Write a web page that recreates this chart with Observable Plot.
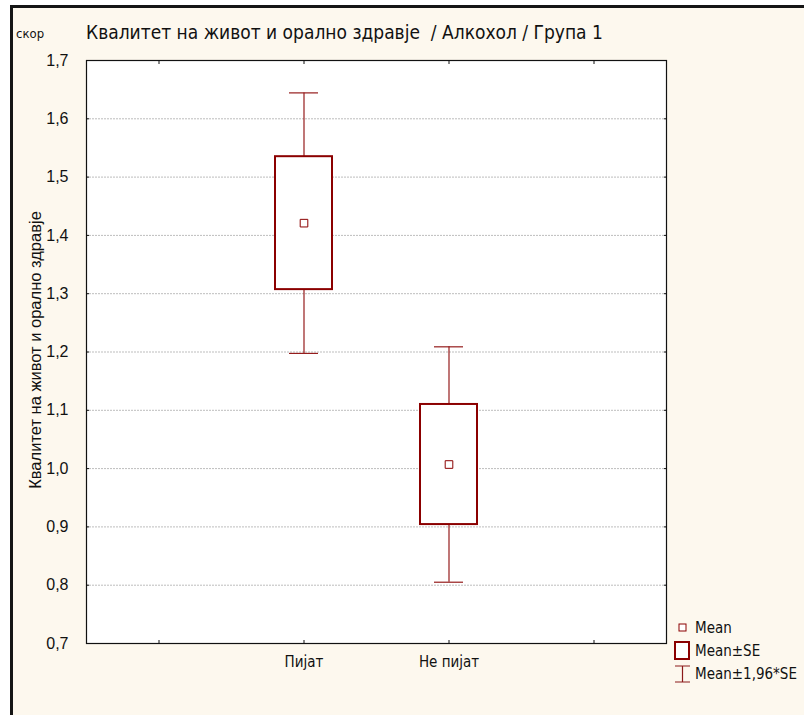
<!DOCTYPE html>
<html>
<head>
<meta charset="utf-8">
<script src="https://cdn.jsdelivr.net/npm/d3@7"></script>
<script src="https://cdn.jsdelivr.net/npm/@observablehq/plot@0.6"></script>
<style>
  html, body { margin: 0; padding: 0; background: #ffffff; }
  #page { position: relative; width: 804px; height: 715px; overflow: hidden; }
  #panel {
    position: absolute; left: 10px; top: 5px; width: 800px; height: 720px;
    border-left: 3px solid #151515; border-top: 3px solid #151515;
    background: #fdf8ee;
  }
  #chart { position: absolute; left: 0; top: 0; }
  #chart svg g[aria-label="y-axis tick label"] { font-size: 16px !important; font-family: "Liberation Sans", Arial, sans-serif; }
  #chart svg g[aria-label="x-axis tick label"] { font-size: 15px !important; }
  .narrow { font-family: "Liberation Sans Narrow", "DejaVu Sans Condensed", "Open Sans", sans-serif; color: #111; }
  #unit { position: absolute; left: 16px; top: 26px; font-size: 13px; }
  #title { position: absolute; left: 86px; top: 21px; font-size: 19px; white-space: pre; }
  #ytitle {
    position: absolute; left: 35px; top: 350px; font-size: 16.5px; white-space: nowrap;
    font-family: "Liberation Sans", Arial, sans-serif; color: #111;
    transform: translate(-50%, -50%) rotate(-90deg);
  }
  #legend { position: absolute; left: 674px; top: 616px; font-size: 15px; }
  #legend .row { display: flex; align-items: center; height: 23px; }
  #legend svg { width: 18px; margin-right: 3px; overflow: visible; }
</style>
</head>
<body>
<div id="page">
  <div id="panel"></div>
  <div id="chart"></div>
  <div id="unit" class="narrow">скор</div>
  <div id="title" class="narrow">Квалитет на живот и орално здравје  / Алкохол / Група 1</div>
  <div id="ytitle">Квалитет на живот и орално здравје</div>
  <div id="legend" class="narrow">
    <div class="row"><svg height="12" viewBox="0 0 18 12"><rect x="5" y="2" width="7" height="7" fill="white" stroke="#8b0000" stroke-width="1"/></svg>Mean</div>
    <div class="row"><svg height="20" viewBox="0 0 18 20"><rect x="1" y="1" width="14" height="17" fill="white" stroke="#8b0000" stroke-width="2"/></svg>Mean±SE</div>
    <div class="row"><svg height="20" viewBox="0 0 18 20"><path d="M1,2H16M8.5,2V18M1,18H16" fill="none" stroke="#8b1a1a" stroke-width="1.2"/></svg>Mean±1,96*SE</div>
  </div>
</div>
<script>
// Groups, means and standard errors of the oral-health quality-of-life score
const groups = ["Пијат", "Не пијат"];
const means = [1.421, 1.007];
const stdErrors = [0.114, 0.103];
const yTicks = [0.7, 0.8, 0.9, 1.0, 1.1, 1.2, 1.3, 1.4, 1.5, 1.6, 1.7];
const gridTicks = [0.8, 0.9, 1.0, 1.1, 1.2, 1.3, 1.4, 1.5, 1.6];
// two empty slots frame the groups on the category axis
const xDomain = ["", ...groups, " "];

const data = groups.map((g, i) => ({
  group: g,
  mean: means[i],
  seLo: means[i] - stdErrors[i],
  seHi: means[i] + stdErrors[i],
  ciLo: means[i] - 1.96 * stdErrors[i],
  ciHi: means[i] + 1.96 * stdErrors[i]
}));

const dark = "#8b0000";
const whisker = "#951c1c";
const comma = d => d3.format(".1f")(d).replace(".", ",");

const chart = Plot.plot({
  width: 804,
  height: 715,
  marginLeft: 86,
  marginTop: 60,
  marginRight: 138,
  marginBottom: 72,
  style: { background: "transparent", fontFamily: "Liberation Sans, Arial, sans-serif", color: "#111" },
  x: { type: "band", domain: xDomain, padding: 0 },
  y: { domain: [0.7, 1.7] },
  marks: [
    Plot.frame({ fill: "white" }),
    Plot.ruleY(gridTicks, { stroke: "#bdbdbd", strokeWidth: 1, strokeDasharray: "2,1" }),
    // tick marks pointing into the frame on all four sides
    Plot.axisY(yTicks, { anchor: "left", tickSize: 3, dx: 3, tickFormat: () => "", label: null }),
    Plot.axisY(yTicks, { anchor: "right", tickSize: 3, dx: -3, tickFormat: () => "", label: null }),
    Plot.axisX(xDomain, { anchor: "top", tickSize: 3, dy: 3, tickFormat: () => "", label: null }),
    Plot.axisX(xDomain, { anchor: "bottom", tickSize: 3, dy: -3, tickFormat: () => "", label: null }),
    // value and category labels
    Plot.axisY(yTicks, { anchor: "left", tickSize: 0, tickPadding: 18, tickFormat: comma, label: null }),
    Plot.axisX(xDomain, {
      anchor: "bottom", tickSize: 0, tickPadding: 13, label: null,
      tickFormat: d => groups.includes(d) ? d : "",
      fontFamily: "Liberation Sans Narrow, DejaVu Sans Condensed, sans-serif"
    }),
    // ±1.96·SE whiskers with caps
    Plot.ruleX(data, { x: "group", y1: "ciLo", y2: "ciHi", stroke: whisker, strokeWidth: 1.2 }),
    Plot.tickY(data, { x: "group", y: "ciLo", stroke: whisker, strokeWidth: 1.2, insetLeft: 58, insetRight: 58 }),
    Plot.tickY(data, { x: "group", y: "ciHi", stroke: whisker, strokeWidth: 1.2, insetLeft: 58, insetRight: 58 }),
    // ±SE boxes
    Plot.barY(data, { x: "group", y1: "seLo", y2: "seHi", fill: "white", stroke: dark, strokeWidth: 2, insetLeft: 44, insetRight: 44 }),
    // means
    Plot.dot(data, { x: "group", y: "mean", symbol: "square", r: 4.3, fill: "white", stroke: dark, strokeWidth: 1 }),
    Plot.frame({ stroke: "#111", strokeWidth: 1.2 })
  ]
});
document.getElementById("chart").appendChild(chart);
</script>
</body>
</html>
